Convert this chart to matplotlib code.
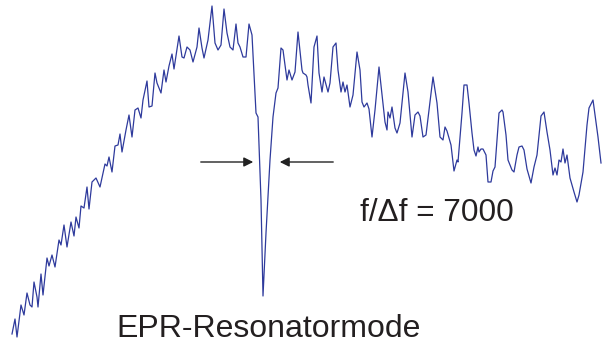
import matplotlib.pyplot as plt

# trace of the spectrum (x right, y down)
x = [12, 15, 17, 21, 24, 27, 30, 32, 34, 37, 38, 41, 43, 47, 49, 52, 55, 59, 61,
     64, 67, 71, 74, 76, 79, 81, 84, 87, 89, 92, 96, 100, 105, 107, 109, 112,
     115, 118, 120, 122, 126, 129, 132, 135, 138, 141, 143, 147, 149, 152, 155,
     157, 161, 164, 166, 169, 172, 174, 179, 182, 184, 187, 190, 193, 197, 199,
     202, 204, 208, 212, 215, 218, 221, 224, 227, 230, 233, 236, 238, 240, 243,
     246, 249, 252, 254, 256, 258, 261, 263, 266, 270, 273, 276, 278, 281, 283,
     287, 289, 292, 295, 298, 302, 303, 306, 307, 308, 311, 314, 317, 319, 322,
     324, 328, 330, 333, 336, 338, 341, 343, 345, 347, 350, 353, 357, 360, 362,
     364, 367, 369, 372, 375, 379, 385, 387, 388, 390, 392, 395, 397, 400, 405,
     408, 412, 415, 418, 420, 423, 426, 433, 437, 440, 443, 445, 447, 451, 454,
     457, 458, 462, 464, 467, 469, 472, 474, 476, 478, 479, 481, 483, 486, 488,
     491, 493, 495, 499, 502, 503, 506, 508, 512, 514, 517, 519, 522, 524, 527,
     531, 534, 537, 541, 544, 547, 550, 553, 555, 557, 559, 561, 563, 565, 567,
     570, 574, 577, 579, 583, 587, 589, 593, 596, 598, 601]
y = [334, 319, 337, 305, 315, 293, 305, 307, 282, 297, 307, 274, 295, 258, 266,
     255, 267, 240, 245, 225, 247, 222, 236, 217, 228, 206, 208, 187, 209, 182,
     178, 187, 164, 166, 157, 172, 146, 145, 134, 152, 130, 115, 137, 110, 108,
     118, 100, 81, 107, 106, 73, 83, 93, 70, 82, 66, 54, 69, 36, 57, 58, 47, 50,
     62, 47, 28, 48, 58, 40, 6, 43, 50, 45, 9, 33, 47, 50, 24, 43, 47, 57, 57,
     24, 35, 73, 113, 117, 200, 296, 233, 160, 117, 93, 88, 48, 50, 80, 70, 80,
     72, 32, 70, 73, 75, 77, 85, 103, 47, 36, 73, 92, 77, 92, 83, 47, 43, 70, 92,
     82, 92, 85, 107, 95, 52, 70, 102, 107, 103, 109, 137, 110, 67, 122, 130,
     112, 118, 107, 128, 133, 123, 73, 92, 137, 115, 112, 116, 137, 135, 77, 103,
     137, 140, 127, 131, 145, 171, 160, 162, 113, 85, 85, 103, 133, 150, 156, 147,
     152, 149, 149, 155, 182, 182, 171, 167, 113, 110, 112, 135, 160, 170, 172,
     155, 147, 146, 150, 169, 183, 167, 155, 116, 112, 132, 150, 175, 168, 175,
     160, 162, 149, 163, 155, 178, 192, 202, 195, 172, 125, 108, 100, 122, 137,
     163]

label_ratio = "f/\u0394f = 7000"
label_mode = "EPR-Resonatormode"

fig = plt.figure(figsize=(6.02, 3.5), dpi=100)
ax = fig.add_axes([0, 0, 1, 1])
ax.set_xlim(0, 602)
ax.set_ylim(350, 0)
ax.axis('off')

ax.plot(x, y, color='#2e3a9c', lw=0.9)

# linewidth arrows
arr = dict(arrowstyle='-|>', color='#222222', lw=1.0, mutation_scale=14)
ax.annotate('', xy=(256, 162), xytext=(198, 162), arrowprops=arr)
ax.annotate('', xy=(277, 162), xytext=(336, 162), arrowprops=arr)

ax.text(360, 213, label_ratio, fontsize=22.7, family='Liberation Sans',
        color='#231f20', va='center', ha='left')
ax.text(116, 329, label_mode, fontsize=23, family='Liberation Sans',
        color='#231f20', va='center', ha='left')

fig.savefig('out.png', dpi=100)
